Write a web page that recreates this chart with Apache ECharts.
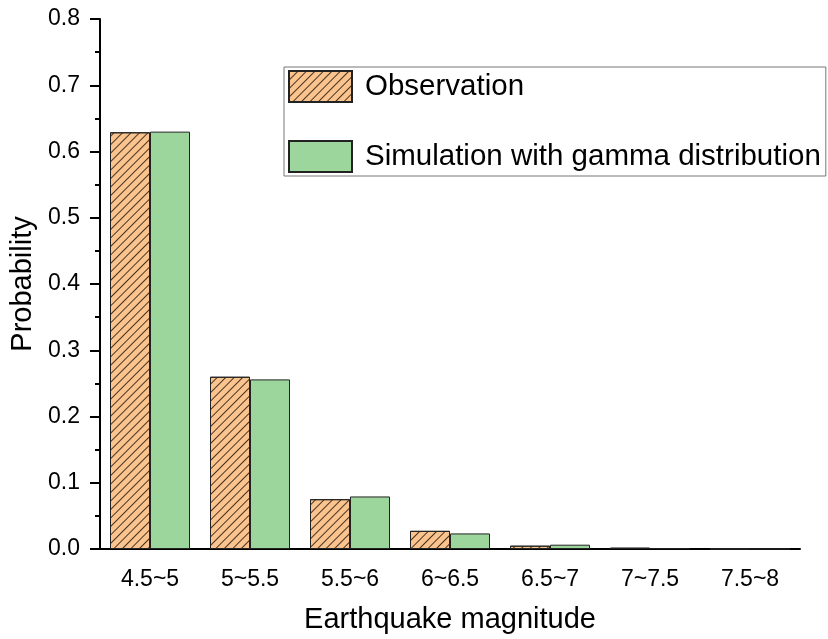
<!DOCTYPE html>
<html>
<head>
<meta charset="utf-8">
<script src="https://cdn.jsdelivr.net/npm/echarts@6/dist/echarts.min.js"></script>
<style>
  html, body { margin: 0; padding: 0; background: #fff; }
  #chart { width: 828px; height: 639px; }
</style>
</head>
<body>
<div id="chart"></div>
<script>
// Magnitude bins on the horizontal axis
const magnitudeBins = ['4.5~5', '5~5.5', '5.5~6', '6~6.5', '6.5~7', '7~7.5', '7.5~8'];
// Observed frequency of each magnitude bin
const observation = [0.629, 0.260, 0.0752, 0.0274, 0.0050, 0.0020, 0.0004];
// Frequencies simulated from a gamma distribution
const simulation = [0.630, 0.256, 0.0793, 0.0235, 0.0065, 0.0012, 0.0002];
// Probability ticks
const yMin = 0, yMax = 0.8, yStep = 0.1;

const FONT = '"Liberation Sans", Arial, sans-serif';

const chart = echarts.init(document.getElementById('chart'), null, { renderer: 'canvas' });

// Forward-slash hatching for the observed bars
const hatch = {
  symbol: 'rect',
  symbolSize: 1,
  color: 'rgba(40,25,10,0.85)',
  dashArrayX: [1, 0],
  dashArrayY: [1, 5],
  rotation: -Math.PI / 4
};

chart.setOption({
  animation: false,
  backgroundColor: '#fff',
  grid: { left: 100, right: 28, top: 19, bottom: 85, containLabel: false },
  legend: {
    orient: 'vertical',
    left: 284,
    top: 67,
    padding: [3, 5, 3, 4],
    itemWidth: 63,
    itemHeight: 31,
    itemGap: 37,
    borderColor: '#777',
    borderWidth: 1,
    textStyle: { fontFamily: FONT, fontSize: 29.5, color: '#000', padding: [0, 0, 0, 8] },
    data: [
      { name: 'Observation', icon: 'rect' },
      { name: 'Simulation with gamma distribution', icon: 'rect' }
    ]
  },
  xAxis: {
    type: 'category',
    data: magnitudeBins,
    boundaryGap: true,
    name: 'Earthquake magnitude',
    nameLocation: 'middle',
    nameGap: 56,
    nameTextStyle: { fontFamily: FONT, fontSize: 29, color: '#000' },
    axisLine: { lineStyle: { color: '#000', width: 2 } },
    axisTick: { alignWithLabel: true, length: 10, lineStyle: { color: '#000', width: 2 } },
    axisLabel: { fontFamily: FONT, fontSize: 23, color: '#000', margin: 19 },
    splitLine: { show: false }
  },
  yAxis: {
    type: 'value',
    min: yMin,
    max: yMax,
    interval: yStep,
    name: 'Probability',
    nameLocation: 'middle',
    nameGap: 55,
    nameTextStyle: { fontFamily: FONT, fontSize: 29, color: '#000' },
    axisLine: { show: true, lineStyle: { color: '#000', width: 2 } },
    axisTick: { show: true, length: 10, lineStyle: { color: '#000', width: 2 } },
    minorTick: { show: true, splitNumber: 2, length: 5, lineStyle: { color: '#000', width: 2 } },
    axisLabel: {
      fontFamily: FONT, fontSize: 23, color: '#000', margin: 20,
      formatter: v => v.toFixed(1)
    },
    splitLine: { show: false }
  },
  series: [
    {
      name: 'Observation',
      type: 'bar',
      data: observation,
      barWidth: 40,
      barGap: '0%',
      itemStyle: {
        color: '#FBC48F',
        borderColor: '#222',
        borderWidth: 1,
        decal: hatch
      }
    },
    {
      name: 'Simulation with gamma distribution',
      type: 'bar',
      data: simulation,
      barWidth: 40,
      barGap: '0%',
      itemStyle: {
        color: '#9DD69C',
        borderColor: '#222',
        borderWidth: 1
      }
    }
  ]
});
</script>
</body>
</html>
